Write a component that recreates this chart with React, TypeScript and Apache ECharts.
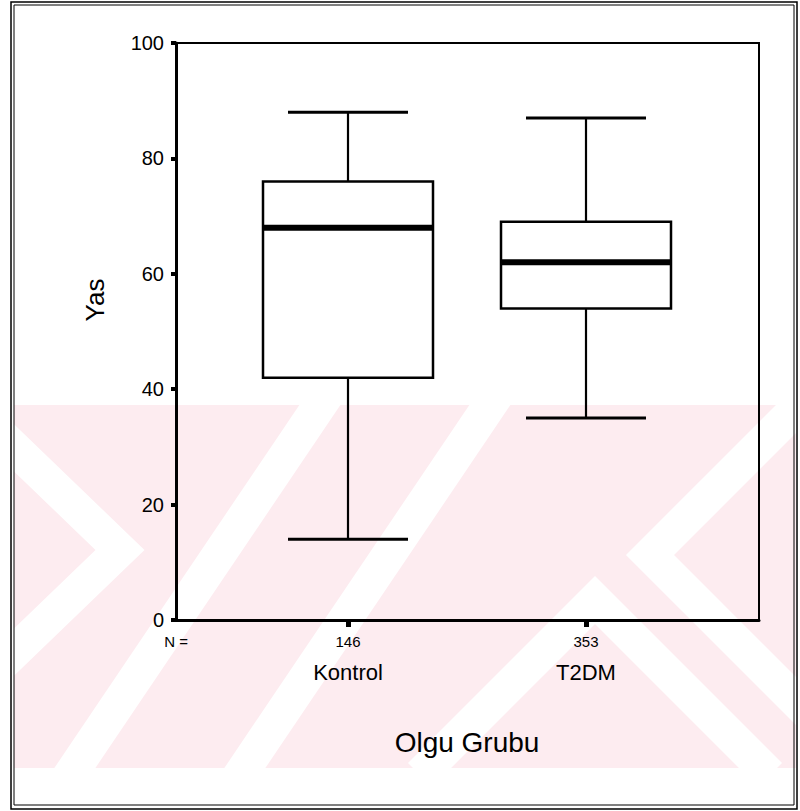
import React, { useEffect, useRef } from "react";
import * as echarts from "echarts";

const categories = ["Kontrol", "T2DM"];
const nCounts = [146, 353];
const lowerWhisker = [14, 35];
const q1 = [42, 54];
const median = [68, 62];
const q3 = [76, 69];
const upperWhisker = [88, 87];
const yTicks = [0, 20, 40, 60, 80, 100];

const FONT = "'Liberation Sans', Arial, Helvetica, sans-serif";
const PINK = "#fdecf0";

export default function App() {
  const ref = useRef<HTMLDivElement>(null);
  useEffect(() => {
    const chart = echarts.init(ref.current!, null, { renderer: "svg" });
    const data = categories.map((c, i) => [i, lowerWhisker[i], q1[i], median[i], q3[i], upperWhisker[i]]);

    const stripe = (pts: number[][]) => ({
      type: "polyline",
      z: 1,
      silent: true,
      shape: { points: pts },
      style: { stroke: "#fff", lineWidth: 34, fill: null, lineJoin: "miter" },
    });

    const option: any = {
      animation: false,
      backgroundColor: "#fff",
      graphic: [
        // watermark band
        { type: "rect", z: 0, silent: true, shape: { x: 14, y: 405, width: 782, height: 363 }, style: { fill: PINK } },
        stripe([[-20, 415], [120, 550], [-20, 685]]),
        stripe([[60, 790], [330, 390]]),
        stripe([[230, 790], [500, 390]]),
        stripe([[420, 775], [595, 600], [770, 775]]),
        stripe([[810, 395], [650, 555], [810, 715]]),
        // covers outside band
        { type: "rect", z: 2, silent: true, shape: { x: 0, y: 0, width: 800, height: 405 }, style: { fill: "#fff" } },
        { type: "rect", z: 2, silent: true, shape: { x: 0, y: 768, width: 800, height: 43 }, style: { fill: "#fff" } },
        { type: "rect", z: 2, silent: true, shape: { x: 0, y: 0, width: 14, height: 811 }, style: { fill: "#fff" } },
        { type: "rect", z: 2, silent: true, shape: { x: 796, y: 0, width: 4, height: 811 }, style: { fill: "#fff" } },
        // outer double frame
        { type: "rect", z: 20, silent: true, shape: { x: 11, y: 2, width: 786, height: 807 }, style: { fill: null, stroke: "#000", lineWidth: 1.5 } },
        { type: "rect", z: 20, silent: true, shape: { x: 14, y: 5, width: 780, height: 800 }, style: { fill: null, stroke: "#000", lineWidth: 1 } },
        // titles
        {
          type: "text", z: 20, x: 95, y: 300, rotation: Math.PI / 2,
          style: { text: "Yas", font: `26px ${FONT}`, fill: "#000", textAlign: "center", textVerticalAlign: "middle" },
        },
        {
          type: "text", z: 20, x: 467, y: 742,
          style: { text: "Olgu Grubu", font: `28px ${FONT}`, fill: "#000", textAlign: "center", textVerticalAlign: "middle" },
        },
        {
          type: "text", z: 20, x: 176, y: 641,
          style: { text: "N =", font: `15px ${FONT}`, fill: "#000", textAlign: "center", textVerticalAlign: "middle" },
        },
      ],
      grid: [
        { left: 176, right: 41, top: 43, bottom: 191, show: true, borderColor: "#000", borderWidth: 2, backgroundColor: "transparent", z: 10 },
        { left: 229, right: 95, top: 43, bottom: 191, z: 10 },
      ],
      xAxis: [
        {
          type: "value", gridIndex: 0, min: 0, max: 1, z: 10,
          axisLine: { show: true, onZero: false, lineStyle: { color: "#000", width: 3 } },
          axisTick: { show: false }, axisLabel: { show: false }, splitLine: { show: false },
        },
        {
          type: "category", gridIndex: 1, data: categories, z: 11,
          axisLine: { show: false },
          axisTick: { show: true, alignWithLabel: true, length: 7, lineStyle: { color: "#000", width: 5 } },
          axisLabel: {
            margin: 12,
            formatter: (v: string) => {
              const i = categories.indexOf(v);
              return `{n|${nCounts[i]}}\n{c|${v}}`;
            },
            rich: {
              n: { fontFamily: FONT, fontSize: 15, lineHeight: 18, color: "#000" },
              c: { fontFamily: FONT, fontSize: 22, lineHeight: 44, color: "#000" },
            },
          },
          splitLine: { show: false },
        },
      ],
      yAxis: [
        {
          type: "value", gridIndex: 0, min: 0, max: 100, interval: 20, z: 10,
          axisLine: { show: true, lineStyle: { color: "#000", width: 3 } },
          axisTick: { show: true, length: 5, lineStyle: { color: "#000", width: 4 } },
          axisLabel: {
            margin: 12, fontFamily: FONT, fontSize: 20, color: "#000",
            customValues: yTicks,
          },
          splitLine: { show: false },
        },
        {
          type: "value", gridIndex: 1, min: 0, max: 100, show: false,
          splitLine: { show: false },
        },
      ],
      series: [
        {
          type: "custom",
          xAxisIndex: 1,
          yAxisIndex: 1,
          z: 12,
          encode: { x: 0, y: [1, 2, 3, 4, 5] },
          data,
          renderItem: (params: any, api: any) => {
            const x = api.value(0);
            const lo = api.coord([x, api.value(1)]);
            const b1 = api.coord([x, api.value(2)]);
            const md = api.coord([x, api.value(3)]);
            const b3 = api.coord([x, api.value(4)]);
            const hi = api.coord([x, api.value(5)]);
            const cx = lo[0];
            const bw = 170;
            const cw = 120;
            const black = "#000";
            return {
              type: "group",
              children: [
                { type: "line", shape: { x1: cx, y1: hi[1], x2: cx, y2: b3[1] }, style: { stroke: black, lineWidth: 2.2 } },
                { type: "line", shape: { x1: cx, y1: b1[1], x2: cx, y2: lo[1] }, style: { stroke: black, lineWidth: 2.2 } },
                { type: "line", shape: { x1: cx - cw / 2, y1: hi[1], x2: cx + cw / 2, y2: hi[1] }, style: { stroke: black, lineWidth: 3 } },
                { type: "line", shape: { x1: cx - cw / 2, y1: lo[1], x2: cx + cw / 2, y2: lo[1] }, style: { stroke: black, lineWidth: 3 } },
                {
                  type: "rect",
                  shape: { x: cx - bw / 2, y: b3[1], width: bw, height: b1[1] - b3[1] },
                  style: { fill: "#fff", stroke: black, lineWidth: 2.5 },
                },
                { type: "line", shape: { x1: cx - bw / 2, y1: md[1], x2: cx + bw / 2, y2: md[1] }, style: { stroke: black, lineWidth: 6 } },
              ],
            };
          },
        },
      ],
    };
    chart.setOption(option);
    return () => chart.dispose();
  }, []);
  return (
    <div
      ref={ref}
      style={{ position: "fixed", left: 0, top: 0, width: 800, height: 811, background: "#fff" }}
    />
  );
}
